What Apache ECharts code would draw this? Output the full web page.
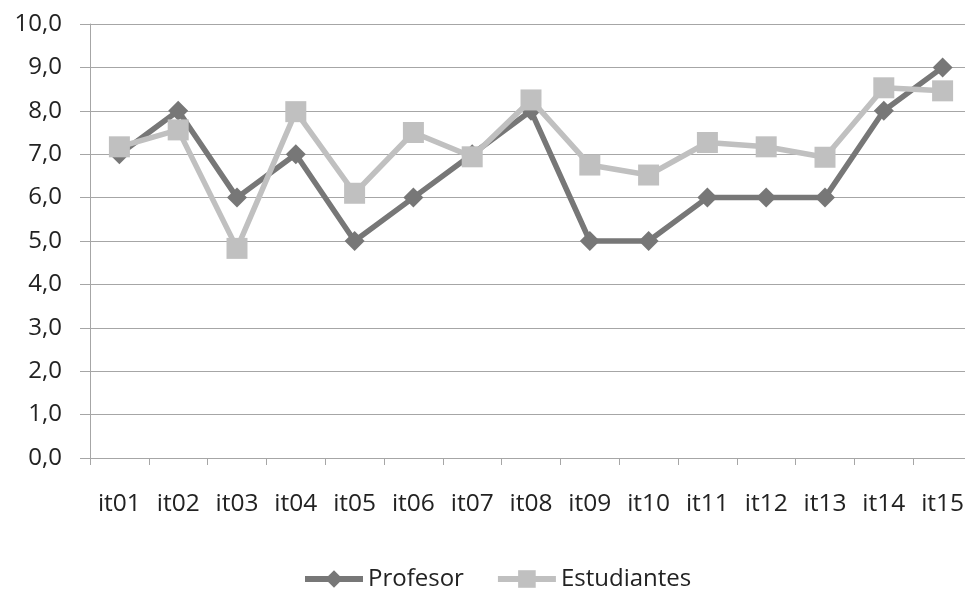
<!DOCTYPE html>
<html>
<head>
<meta charset="utf-8">
<script src="https://cdn.jsdelivr.net/npm/echarts@6/dist/echarts.min.js"></script>
<style>
  html, body { margin: 0; padding: 0; background: #fff; overflow: hidden; }
  /* the last category band runs a few pixels past the visible edge */
  #chart { width: 972px; height: 590px; }
</style>
</head>
<body>
<div id="chart"></div>
<script>
// Item labels along the x axis
const items = ['it01', 'it02', 'it03', 'it04', 'it05', 'it06', 'it07', 'it08',
               'it09', 'it10', 'it11', 'it12', 'it13', 'it14', 'it15'];
// Scores per item
const profesor = [7, 8, 6, 7, 5, 6, 7, 8, 5, 5, 6, 6, 6, 8, 9];
const estudiantes = [7.17, 7.56, 4.83, 7.98, 6.1, 7.5, 6.94, 8.25, 6.75, 6.52, 7.27, 7.17, 6.93, 8.53, 8.46];

const FONT = '"Open Sans", sans-serif';
const chart = echarts.init(document.getElementById('chart'), null, { renderer: 'canvas' });

chart.setOption({
  animation: false,
  backgroundColor: '#ffffff',
  textStyle: { fontFamily: FONT },
  grid: { left: 90, right: 0, top: 24, height: 434, containLabel: false },
  legend: {
    top: 567,
    left: 302,
    padding: 0,
    itemWidth: 58,
    itemHeight: 22,
    itemGap: 31,
    lineStyle: { width: 6 },
    textStyle: { fontFamily: FONT, fontSize: 24, color: '#222' },
    data: ['Profesor', 'Estudiantes']
  },
  xAxis: {
    type: 'category',
    data: items,
    boundaryGap: true,
    axisLine: { lineStyle: { color: '#a6a6a6', width: 1 } },
    axisTick: { show: true, length: 7, lineStyle: { color: '#a6a6a6' } },
    axisLabel: { fontFamily: FONT, fontSize: 24.5, color: '#222', margin: 34 },
    splitLine: { show: false }
  },
  yAxis: {
    type: 'value',
    min: 0,
    max: 10,
    interval: 1,
    axisLine: { show: true, lineStyle: { color: '#a6a6a6', width: 1 } },
    axisTick: { show: true, inside: false, length: 10, lineStyle: { color: '#a6a6a6' } },
    axisLabel: {
      fontFamily: FONT, fontSize: 24, color: '#222', margin: 28,
      formatter: v => v.toFixed(1).replace('.', ',')
    },
    splitLine: { show: true, lineStyle: { color: '#a6a6a6', width: 1 } }
  },
  series: [
    {
      name: 'Profesor',
      type: 'line',
      data: profesor,
      symbol: 'diamond',
      symbolSize: 20,
      showAllSymbol: true,
      color: '#777777',
      lineStyle: { width: 5.5, color: '#777777' },
      itemStyle: { color: '#777777' },
      z: 2
    },
    {
      name: 'Estudiantes',
      type: 'line',
      data: estudiantes,
      symbol: 'rect',
      symbolSize: 21,
      showAllSymbol: true,
      color: '#c0c0c0',
      lineStyle: { width: 5.5, color: '#c0c0c0' },
      itemStyle: { color: '#c0c0c0' },
      z: 3
    }
  ]
});
</script>
</body>
</html>
